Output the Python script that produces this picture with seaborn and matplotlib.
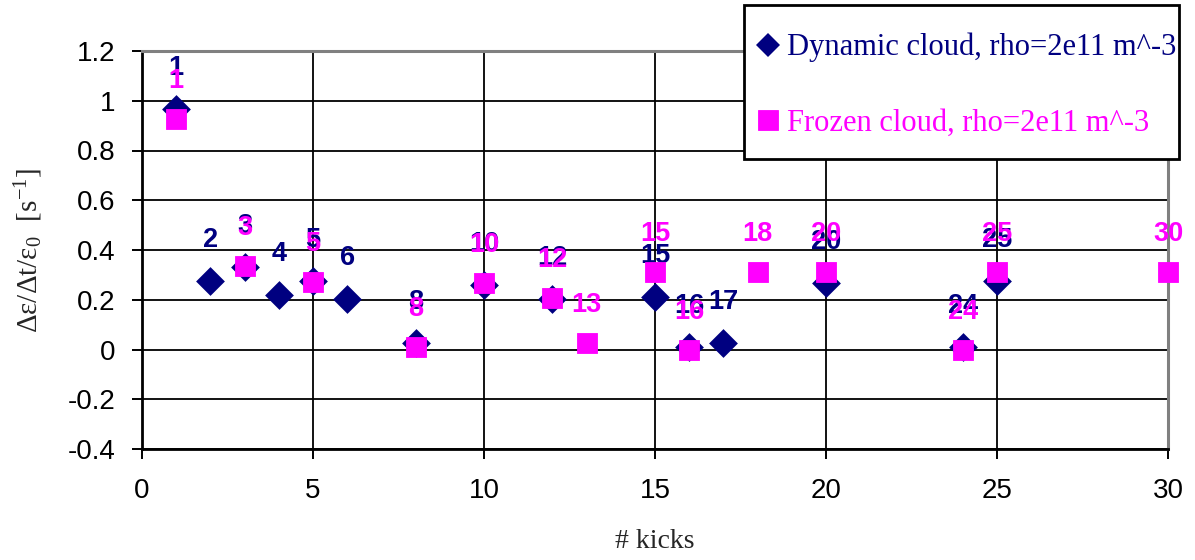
import matplotlib
matplotlib.use("Agg")
import matplotlib.pyplot as plt
from matplotlib.lines import Line2D
from matplotlib.patches import Rectangle
import seaborn as sns

# Emittance growth rate per kick number, two cloud models
dyn_kicks = [1, 2, 3, 4, 5, 6, 8, 10, 12, 15, 16, 17, 20, 24, 25]
dyn_rates = [0.966, 0.275, 0.331, 0.219, 0.275, 0.202, 0.025, 0.258,
             0.203, 0.211, 0.011, 0.025, 0.268, 0.011, 0.275]

frz_kicks = [1, 3, 5, 8, 10, 12, 13, 15, 16, 18, 20, 24, 25, 30]
frz_rates = [0.925, 0.336, 0.271, 0.011, 0.268, 0.206, 0.027, 0.311,
             -0.002, 0.311, 0.311, -0.002, 0.311, 0.311]

dyn_name = "Dynamic cloud, rho=2e11 m^-3"
frz_name = "Frozen cloud, rho=2e11 m^-3"

xticks = [0, 5, 10, 15, 20, 25, 30]
yticks = [-0.4, -0.2, 0.0, 0.2, 0.4, 0.6, 0.8, 1.0, 1.2]
ytick_labels = ["-0.4", "-0.2", "0", "0.2", "0.4", "0.6", "0.8", "1", "1.2"]

NAVY = "#000080"
MAGENTA = "#FF00FF"

sns.set_style("white")
plt.rcParams["font.family"] = ["Liberation Sans", "DejaVu Sans"]
plt.rcParams["mathtext.fontset"] = "custom"
plt.rcParams["mathtext.rm"] = "Liberation Serif"
plt.rcParams["mathtext.it"] = "Liberation Serif"

W, H = 1195, 560
fig = plt.figure(figsize=(W / 100, H / 100), dpi=100)
ax = fig.add_axes([142 / W, 1 - 449 / H, 1026 / W, 398 / H])

# dynamic cloud: diamonds with kick numbers above
sns.scatterplot(x=dyn_kicks, y=dyn_rates, marker="D", s=215, color=NAVY,
                edgecolor=NAVY, linewidth=0, ax=ax, clip_on=False, zorder=3,
                legend=False)
for k, v in zip(dyn_kicks, dyn_rates):
    ax.annotate(str(k), (k, v), xytext=(0, 34), textcoords="offset pixels",
                ha="center", va="baseline", fontsize=19.5, fontweight="bold",
                color=NAVY, annotation_clip=False, zorder=4)

# frozen cloud: squares with kick numbers above
sns.scatterplot(x=frz_kicks, y=frz_rates, marker="s", s=190, color=MAGENTA,
                edgecolor=MAGENTA, linewidth=0.6, ax=ax, clip_on=False,
                zorder=5, legend=False)
for k, v in zip(frz_kicks, frz_rates):
    ax.annotate(str(k), (k, v), xytext=(0, 31), textcoords="offset pixels",
                ha="center", va="baseline", fontsize=19.5, fontweight="bold",
                color=MAGENTA, annotation_clip=False, zorder=6)

ax.set_xlim(0, 30)
ax.set_ylim(-0.4, 1.2)
ax.set_xticks(xticks)
ax.set_xticklabels([str(t) for t in xticks])
ax.set_yticks(yticks)
ax.set_yticklabels(ytick_labels)
ax.tick_params(axis="both", labelsize=20, colors="black", direction="out",
               length=7.2, width=1.4)
ax.tick_params(axis="x", pad=14, bottom=True)
ax.tick_params(axis="y", pad=12, left=True)

ax.set_axisbelow(True)
ax.grid(True, color="black", linewidth=1.3)
for side in ("left", "bottom"):
    ax.spines[side].set_color("black")
    ax.spines[side].set_linewidth(2)
for side in ("top", "right"):
    ax.spines[side].set_color("#808080")
    ax.spines[side].set_linewidth(2.2)

ax.set_xlabel("# kicks", fontsize=20, family="Liberation Serif")
ax.xaxis.set_label_coords(0.5, -0.2)
ax.set_ylabel(r"Δε/Δt/ε$_0$  [s$^{-1}$]", fontsize=21,
              family=["Liberation Serif", "DejaVu Serif"])
ax.yaxis.set_label_coords(-0.095, 0.5)

# legend box drawn as its own framed rectangle, entries placed inside
box = Rectangle((744 / W, 1 - 159 / H), 435 / W, 154 / H,
                transform=fig.transFigure, facecolor="white",
                edgecolor="black", linewidth=2, zorder=2)
fig.patches.append(box)

handles = [
    Line2D([], [], linestyle="None", marker="D", markersize=12.5,
           markerfacecolor=NAVY, markeredgecolor=NAVY, markeredgewidth=0),
    Line2D([], [], linestyle="None", marker="s", markersize=14,
           markerfacecolor=MAGENTA, markeredgecolor=MAGENTA,
           markeredgewidth=0.6),
]
leg = fig.legend(handles, [dyn_name, frz_name], loc="upper left",
                 bbox_to_anchor=(740 / W, 1 - 5 / H),
                 bbox_transform=fig.transFigure,
                 prop={"family": "Liberation Serif", "size": 22},
                 frameon=False, borderpad=0.915, handlelength=0.0,
                 handletextpad=0.62, labelspacing=1.52, borderaxespad=0)
leg.set_zorder(3)
for txt, col in zip(leg.get_texts(), [NAVY, MAGENTA]):
    txt.set_color(col)

fig.savefig("out.png", dpi=100)
